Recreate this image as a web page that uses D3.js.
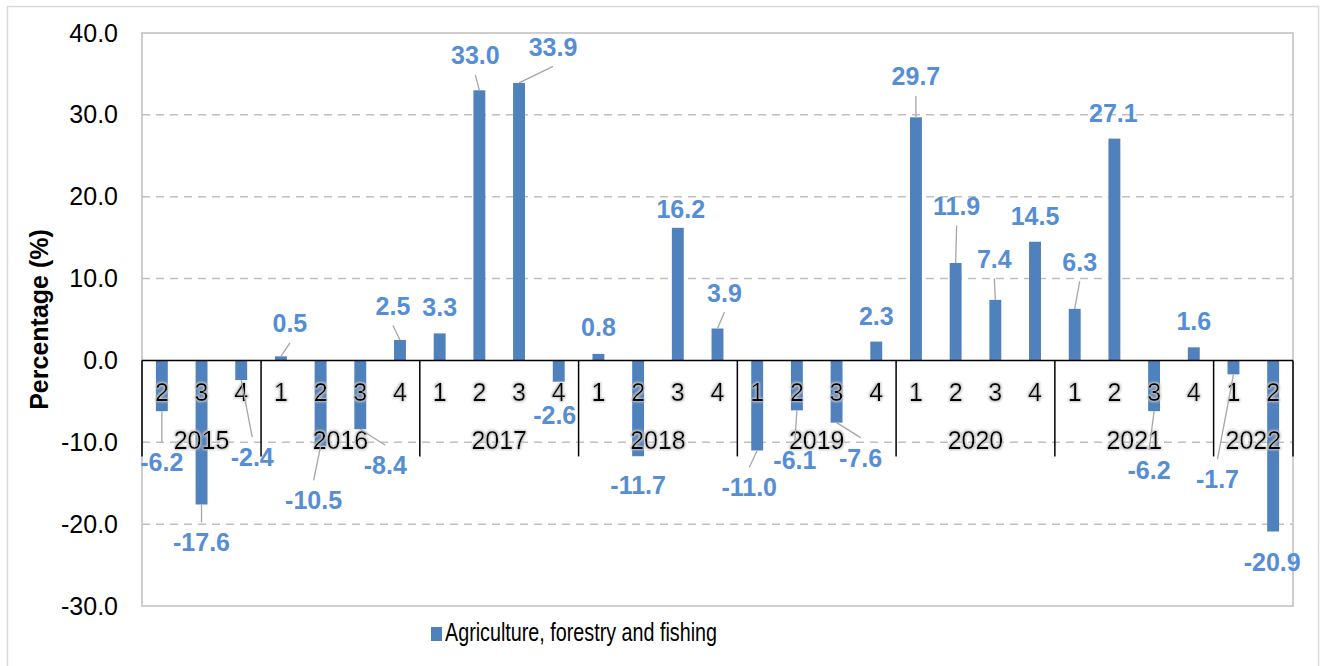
<!DOCTYPE html>
<html>
<head>
<meta charset="utf-8">
<script src="https://cdn.jsdelivr.net/npm/d3@7"></script>
<style>
  html, body { margin: 0; padding: 0; background: #fff; }
  svg { display: block; font-family: "Liberation Sans", Arial, sans-serif; }
</style>
</head>
<body>
<svg id="chart" width="1322" height="666"></svg>
<script>
// ---- data ----
const years    = ["2015", "2016", "2017", "2018", "2019", "2020", "2021", "2022"];
const quarters = [
  ["2","3","4"],
  ["1","2","3","4"],
  ["1","2","3","4"],
  ["1","2","3","4"],
  ["1","2","3","4"],
  ["1","2","3","4"],
  ["1","2","3","4"],
  ["1","2"]
];
const values = [
  -6.2, -17.6, -2.4,
  0.5, -10.5, -8.4, 2.5,
  3.3, 33.0, 33.9, -2.6,
  0.8, -11.7, 16.2, 3.9,
  -11.0, -6.1, -7.6, 2.3,
  29.7, 11.9, 7.4, 14.5,
  6.3, 27.1, -6.2, 1.6,
  -1.7, -20.9
];
const yTicks = [40, 30, 20, 10, 0, -10, -20, -30];
const seriesName = "Agriculture, forestry and fishing";
const yTitle = "Percentage (%)";

// manual data-label placement (offset from bar end, px) – layout config
const labelOffsets = [
  [0, 51], [0, 38], [11, 77],
  [9, -33], [-7, 54], [25, 36], [-7, -34],
  [0, -26], [-4, -35], [34, -36], [-4, 33],
  [0, -27], [0, 29], [3, -19], [7, -36],
  [-8, 37], [-2, 50], [24, 35], [0, -26],
  [0, -41], [1, -57], [-1, -41], [0, -26],
  [5, -47], [-1, -26], [-5, 59], [0, -26],
  [-16, 105], [-1, 30]
];

const fmt = v => v.toFixed(1);  // plain hyphen-minus, as in the reference

// ---- build categories ----
const cats = [];
years.forEach((y, yi) => quarters[yi].forEach(q => cats.push({ year: y, q: q, id: y + "-" + q })));
cats.forEach((c, i) => { c.value = values[i]; c.off = labelOffsets[i]; });

// ---- layout ----
const svg = d3.select("#chart");
const plot = { left: 142, right: 1293, top: 33, bottom: 606 };
const blue = "#4F81BD", labelBlue = "#558ED5";

// glow filter for category labels
const defs = svg.append("defs");
const f = defs.append("filter").attr("id", "glow").attr("x", "-20%").attr("y", "-20%").attr("width", "140%").attr("height", "140%");
f.append("feMorphology").attr("in", "SourceAlpha").attr("operator", "dilate").attr("radius", 1.2).attr("result", "d");
f.append("feGaussianBlur").attr("in", "d").attr("stdDeviation", 0.8).attr("result", "b");
f.append("feFlood").attr("flood-color", "#c4c4c4");
f.append("feComposite").attr("in2", "b").attr("operator", "in").attr("result", "g");
const fm = f.append("feMerge");
fm.append("feMergeNode").attr("in", "g");
fm.append("feMergeNode").attr("in", "SourceGraphic");

// outer border
svg.append("rect").attr("x", 7.5).attr("y", 6.5).attr("width", 1311).attr("height", 670)
  .attr("fill", "#fff").attr("stroke", "#d9d9d9").attr("stroke-width", 1.5);

const x = d3.scaleBand().domain(cats.map(c => c.id)).range([plot.left, plot.right]).paddingInner(0.7).paddingOuter(0.35);
const xc = id => x(id) + x.bandwidth() / 2;
const step = x.step();
const y = d3.scaleLinear().domain([-30, 40]).range([plot.bottom, plot.top]);

// gridlines (dashed)
svg.append("g").selectAll("line").data(yTicks.filter(t => t !== 40 && t !== -30 && t !== 0)).join("line")
  .attr("x1", plot.left).attr("x2", plot.right)
  .attr("y1", d => y(d)).attr("y2", d => y(d))
  .attr("stroke", "#bfbfbf").attr("stroke-width", 1.5).attr("stroke-dasharray", "8,6");

// plot border
svg.append("rect").attr("x", plot.left).attr("y", plot.top)
  .attr("width", plot.right - plot.left).attr("height", plot.bottom - plot.top)
  .attr("fill", "none").attr("stroke", "#bfbfbf").attr("stroke-width", 1.5);

// y axis labels
const yAxis = d3.axisLeft(y).tickValues(yTicks).tickFormat(fmt).tickSize(0).tickPadding(24);
const ya = svg.append("g").attr("transform", `translate(${plot.left},0)`).call(yAxis);
ya.select(".domain").remove();
ya.selectAll("text").attr("font-size", 25).attr("fill", "#000").attr("font-family", "Liberation Sans, Arial, sans-serif");

// y title
svg.append("text").attr("transform", `translate(48,${(plot.top + plot.bottom) / 2}) rotate(-90)`)
  .attr("text-anchor", "middle").attr("font-size", 25).attr("font-weight", "bold").text(yTitle);

// bars
svg.append("g").selectAll("rect").data(cats).join("rect")
  .attr("x", d => x(d.id)).attr("width", x.bandwidth())
  .attr("y", d => y(Math.max(0, d.value)))
  .attr("height", d => Math.abs(y(d.value) - y(0)))
  .attr("fill", blue);

// zero axis line
svg.append("line").attr("x1", plot.left).attr("x2", plot.right).attr("y1", y(0)).attr("y2", y(0))
  .attr("stroke", "#000").attr("stroke-width", 1.5);

// year separators
const yearStarts = [];
let k = 0;
years.forEach((yr, yi) => { yearStarts.push({ yr, start: k, n: quarters[yi].length }); k += quarters[yi].length; });
const sepX = yearStarts.map(s => plot.left + s.start * step).concat([plot.right]);
svg.append("g").selectAll("line").data(sepX).join("line")
  .attr("x1", d => d).attr("x2", d => d).attr("y1", y(0)).attr("y2", y(0) + 96)
  .attr("stroke", "#000").attr("stroke-width", 1.5);

// quarter labels
svg.append("g").selectAll("text").data(cats).join("text")
  .attr("x", d => xc(d.id)).attr("y", y(0) + 41)
  .attr("text-anchor", "middle").attr("font-size", 25).attr("fill", "#000")
  .attr("filter", "url(#glow)").text(d => d.q);

// year labels
svg.append("g").selectAll("text").data(yearStarts).join("text")
  .attr("x", d => plot.left + (d.start + d.n / 2) * step).attr("y", y(0) + 89)
  .attr("text-anchor", "middle").attr("font-size", 25).attr("fill", "#000")
  .attr("filter", "url(#glow)").text(d => d.yr);

// data labels + leader lines
const lab = cats.map(d => {
  const bx = xc(d.id), by = y(d.value);
  const lx = bx + d.off[0], ly = by + d.off[1];
  const above = d.off[1] < 0;
  const ax = lx, ay = above ? ly + 19.5 : ly - 20;
  const dist = Math.hypot(ax - bx, ay - by);
  return { d, bx, by, lx, ly, ax, ay, lead: dist > 14 };
});
svg.append("g").selectAll("line").data(lab.filter(l => l.lead)).join("line")
  .attr("x1", l => l.bx).attr("y1", l => l.by).attr("x2", l => l.ax).attr("y2", l => l.ay)
  .attr("stroke", "#a6a6a6").attr("stroke-width", 1.3);
svg.append("g").selectAll("text").data(lab).join("text")
  .attr("x", l => l.lx).attr("y", l => l.ly).attr("dy", "0.36em")
  .attr("text-anchor", "middle").attr("font-size", 25).attr("font-weight", "bold")
  .attr("fill", labelBlue).text(l => fmt(l.d.value));

// legend
const lg = svg.append("g");
lg.append("rect").attr("x", 431).attr("y", 627).attr("width", 11).attr("height", 14).attr("fill", blue);
lg.append("text").attr("x", 445).attr("y", 641).attr("font-size", 26)
  .attr("textLength", 272).attr("lengthAdjust", "spacingAndGlyphs").text(seriesName);
</script>
</body>
</html>
